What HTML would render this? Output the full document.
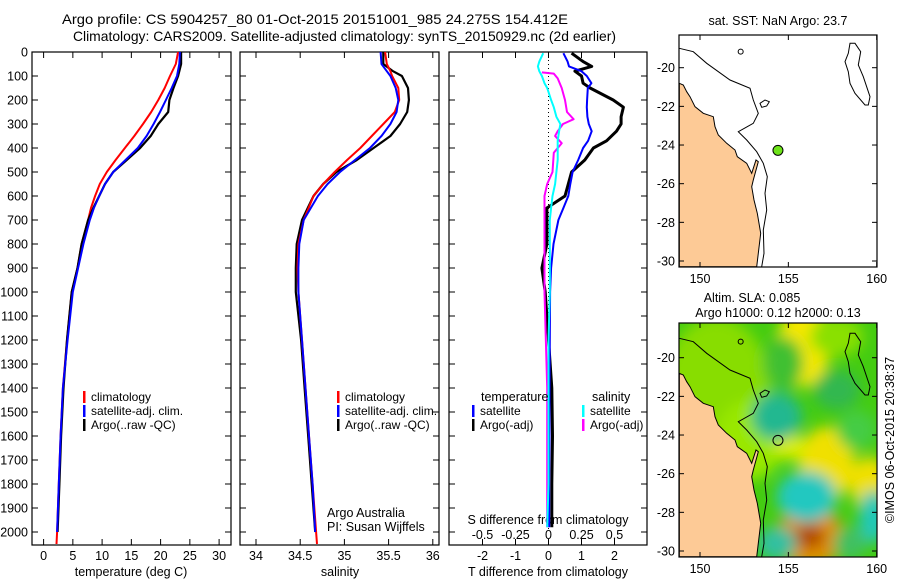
<!DOCTYPE html>
<html><head><meta charset="utf-8"><style>
body{margin:0;background:#fff;}
svg{display:block;font-family:"Liberation Sans",sans-serif;}
</style></head><body>
<svg id="c" width="900" height="580" viewBox="0 0 900 580">
<defs>
<clipPath id="mapclip1"><rect x="679" y="35" width="198" height="232"/></clipPath>
<clipPath id="mapclip2"><rect x="679" y="323" width="198" height="234"/></clipPath>
<filter id="blur" x="-50%" y="-50%" width="200%" height="200%"><feGaussianBlur stdDeviation="7"/></filter>
</defs>
<g font-size="14">
<text x="62" y="24" textLength="506" lengthAdjust="spacingAndGlyphs">Argo profile: CS 5904257_80 01-Oct-2015 20151001_985 24.275S 154.412E</text>
<text x="73" y="41" textLength="543" lengthAdjust="spacingAndGlyphs">Climatology: CARS2009. Satellite-adjusted climatology: synTS_20150929.nc (2d earlier)</text>
</g>
<g id="plots"></g>
<g id="maps"></g>
</svg>
<script>
// ---- data ----
const tDepth = [0,50,100,150,200,250,300,350,400,450,500,550,600,650,700,800,900,1000,1200,1400,1600,1800,2000,2050];
const tClim = [23.0,22.6,21.6,20.7,19.6,18.4,17.0,15.5,13.9,12.3,10.8,9.6,8.8,8.1,7.6,6.5,5.8,4.8,4.0,3.3,2.9,2.6,2.3,2.2];
const tSat = [23.3,23.2,22.8,21.9,20.9,19.9,18.8,17.6,16.1,14.0,11.9,10.5,9.5,8.6,7.9,6.8,5.9,5.0,4.1,3.3,2.9,2.6,2.3];
const tArgo = [23.5,23.5,23.0,22.2,21.5,21.3,19.6,18.3,16.5,14.2,11.9,10.5,9.5,8.5,7.6,6.5,5.8,4.8,4.0,3.4,3.0,2.7,2.4];
const sDepth = [0,50,80,100,150,200,250,300,350,400,450,500,550,600,700,800,900,1000,1200,1400,1600,1800,2000,2050];
const sClim = [35.46,35.48,35.52,35.54,35.61,35.62,35.57,35.44,35.31,35.18,35.03,34.89,34.76,34.65,34.54,34.48,34.47,34.48,34.52,34.56,34.60,34.64,34.68,34.69];
const sSat = [35.41,35.42,35.48,35.52,35.58,35.61,35.59,35.52,35.42,35.29,35.12,34.95,34.81,34.70,34.54,34.49,34.48,34.48,34.52,34.56,34.60,34.64,34.67];
const sArgo = [35.44,35.44,35.55,35.65,35.72,35.73,35.71,35.63,35.52,35.33,35.14,34.91,34.76,34.65,34.52,34.46,34.45,34.45,34.51,34.55,34.59,34.63,34.67];
const dDepth = [5,40,60,80,100,130,150,200,230,270,300,330,370,400,450,500,550,600,650,700,800,900,1000,1200,1400,1600,1800,1980];
const dTSat = [0.45,0.58,0.62,1.0,1.16,1.3,1.19,1.17,1.16,1.18,1.22,1.31,1.2,1.05,0.9,0.73,0.66,0.6,0.45,0.3,0.15,0.08,0.05,0.04,0.03,0.03,0.02,0.02];
const dTArgo = [0.7,1.05,1.31,0.8,1.0,1.05,1.26,1.96,2.27,2.2,2.2,2.06,1.76,1.36,1.1,0.7,0.6,0.5,-0.05,-0.05,-0.05,-0.2,-0.1,0.0,0.1,0.12,0.1,0.1];
const dSSat = [-0.04,-0.07,-0.08,-0.07,-0.05,-0.03,-0.01,0.02,0.04,0.06,0.09,0.08,0.07,0.07,0.07,0.06,0.05,0.03,0.02,0.01,0.01,0.01,0.01,0.0,0.0,0.0,0.0,-0.01];
const mDepth = [85,90,110,150,200,250,280,300,330,350,380,420,500,550,600,700,800,1000,1400,1800,1980];
const dSArgo = [-0.05,0.04,0.07,0.1,0.125,0.14,0.19,0.11,0.07,0.05,0.1,0.04,0.03,-0.01,-0.03,-0.03,-0.03,-0.03,-0.01,-0.01,-0.01];
const depthTicks = [0,100,200,300,400,500,600,700,800,900,1000,1100,1200,1300,1400,1500,1600,1700,1800,1900,2000];
const tTicks = [0,5,10,15,20,25,30];
const sTicks = [34,34.5,35,35.5,36];
const sTickLabels = ["34","34.5","35","35.5","36"];
const dtTicks = [-2,-1,0,1,2];
const dsTicks = [-0.5,-0.25,0,0.25,0.5];
const dsTickLabels = ["-0.5","-0.25","0","0.25","0.5"];
const lonTicks = [150,155,160];
const latTicks = [-20,-22,-24,-26,-28,-30];
const argoLon = 154.412, argoLat = -24.275;

const NS='http://www.w3.org/2000/svg';
function mk(tag, attrs, parent){const e=document.createElementNS(NS,tag);for(const k in attrs)e.setAttribute(k,attrs[k]);parent.appendChild(e);return e;}
const plots=document.getElementById('plots');
const yD = d => 52 + d*0.24;
const pTop=52, pBot=545;
const panels=[
 {x0:32,x1:231,name:'temperature-panel',fx:v=>43.6+v*5.85},
 {x0:240,x1:439,name:'salinity-panel',fx:v=>256+(v-34)*88.4},
 {x0:449,x1:647,name:'difference-panel',fx:v=>548.5+v*33}
];
function line(xs, ds, fx, color, w, name, parent){
  let p='';
  for(let i=0;i<Math.min(xs.length,ds.length);i++){p+=(i?'L':'M')+fx(xs[i]).toFixed(1)+','+yD(ds[i]).toFixed(1);}
  const e=mk('path',{d:p,fill:'none',stroke:color,'stroke-width':w,'stroke-linejoin':'round'},parent);
  
  
}
panels.forEach((P,pi)=>{
  const g=mk('g',{},plots);
  
  
  const fr=mk('rect',{x:P.x0,y:pTop,width:P.x1-P.x0,height:pBot-pTop,fill:'none',stroke:'#000','stroke-width':1.2},g);
  
  
  depthTicks.forEach(d=>{
    mk('line',{x1:P.x0,x2:P.x0+6,y1:yD(d),y2:yD(d),stroke:'#000'},g);
    mk('line',{x1:P.x1-6,x2:P.x1,y1:yD(d),y2:yD(d),stroke:'#000'},g);
  });
});
const yl=mk('g',{'font-size':'12.5','text-anchor':'end'},plots);


depthTicks.forEach(d=>{const t=mk('text',{x:28,y:yD(d)+4.5},yl);t.textContent=d;});
function xticks(P, ticks, labels, ly, name){
  const g=mk('g',{'font-size':'12.5','text-anchor':'middle'},plots);
  
  
  ticks.forEach((v,i)=>{
    const x=P.fx(v);
    mk('line',{x1:x,x2:x,y1:pTop,y2:pTop+6,stroke:'#000'},g);
    mk('line',{x1:x,x2:x,y1:pBot-6,y2:pBot,stroke:'#000'},g);
    const t=mk('text',{x:x,y:ly},g);t.textContent=labels[i];
  });
}
xticks(panels[0], tTicks, tTicks.map(String), 560, 'temperature-axis-ticks');
xticks(panels[1], sTicks, sTickLabels, 560, 'salinity-axis-ticks');
xticks(panels[2], dtTicks, dtTicks.map(String), 560, 't-diff-axis-ticks');
const sdl=mk('g',{'font-size':'12.5','text-anchor':'middle'},plots);


dsTicks.forEach((v,i)=>{const t=mk('text',{x:548.5+v*132,y:539},sdl);t.textContent=dsTickLabels[i];});
[[131,'temperature (deg C)','x-axis-title-temperature'],[340,'salinity','x-axis-title-salinity'],[548,'T difference from climatology','x-axis-title-t-diff']].forEach(a=>{
  const t=mk('text',{x:a[0],y:576,'font-size':'12.5','text-anchor':'middle'},plots);t.textContent=a[1];
  
  
});
const sdt=mk('text',{x:548,y:524,'font-size':'12.5','text-anchor':'middle'},plots);sdt.textContent='S difference from climatology';


const zl=mk('line',{x1:548.5,x2:548.5,y1:pTop,y2:yD(2000),stroke:'#000','stroke-dasharray':'1,3'},plots);


line(tClim,tDepth,panels[0].fx,'#f00',2,'temp-climatology-line',plots);
line(tArgo,tDepth,panels[0].fx,'#000',2.2,'temp-argo-line',plots);
line(tSat,tDepth,panels[0].fx,'#00f',2,'temp-satellite-line',plots);
line(sArgo,sDepth,panels[1].fx,'#000',2.2,'sal-argo-line',plots);
line(sClim,sDepth,panels[1].fx,'#f00',2,'sal-climatology-line',plots);
line(sSat,sDepth,panels[1].fx,'#00f',2,'sal-satellite-line',plots);
line(dTArgo,dDepth,v=>548.5+v*33,'#000',3,'t-diff-argo-line',plots);
line(dTSat,dDepth,v=>548.5+v*33,'#00f',2,'t-diff-satellite-line',plots);
line(dSArgo,mDepth,v=>548.5+v*132,'#f0f',2,'s-diff-argo-line',plots);
line(dSSat,dDepth,v=>548.5+v*132,'#0ff',2,'s-diff-satellite-line',plots);
function legend(x,y,items,name){
  const g=mk('g',{'font-size':'12'},plots);
  
  
  items.forEach((it,i)=>{
    mk('rect',{x:x,y:y+i*14-10,width:2.5,height:12,fill:it[0]},g);
    const t=mk('text',{x:x+8,y:y+i*14},g);t.textContent=it[1];
  });
}
legend(83,401,[['#f00','climatology'],['#00f','satellite-adj. clim.'],['#000','Argo(..raw -QC)']],'temperature-legend');
legend(337,401,[['#f00','climatology'],['#00f','satellite-adj. clim.'],['#000','Argo(..raw -QC)']],'salinity-legend');
legend(472,415,[['#00f','satellite'],['#000','Argo(-adj)']],'t-diff-legend');
legend(582,415,[['#0ff','satellite'],['#f0f','Argo(-adj)']],'s-diff-legend');
[[481,401,'temperature'],[592,401,'salinity'],[327,517,'Argo Australia'],[327,531,'PI: Susan Wijffels']].forEach(a=>{
  const t=mk('text',{x:a[0],y:a[1],'font-size':'12.5'},plots);t.textContent=a[2];
  
  
});

// ---- maps ----
const maps=document.getElementById('maps');
const coast=[[88,250],[100,255],[110,275],[120,290],[135,320],[160,340],[190,350],[195,380],[205,405],[230,430],[255,450],[262,470],[290,490],[305,520],[318,480],[325,485],[310,540],[305,560],[312,600],[322,640],[332,700],[325,760],[320,800],[88,800]];
const shelf=[[88,145],[130,155],[170,190],[240,240],[300,265],[310,300],[325,340],[310,370],[265,395],[290,420],[320,455],[340,490],[352,530],[345,580],[350,630],[340,690],[342,760],[335,800]];
const island=[[600,130],[615,130],[632,155],[625,195],[640,230],[660,290],[655,315],[645,315],[615,280],[600,250],[595,215],[585,185],[595,160]];
function mapPts(arr, y0){return arr.map(p=>(650+p[0]/3).toFixed(1)+','+(y0+p[1]/3).toFixed(1)).join(' ');}
function drawMap(y0, boxTop, boxBot, latY, clip, heat, name){
  const g=mk('g',{},maps);
  
  
  const inner=mk('g',{'clip-path':'url(#'+clip+')'},g);
  mk('rect',{x:679,y:boxTop,width:198,height:boxBot-boxTop,fill:heat?'#44cc11':'#fff'},inner);
  if(heat){
    const blobs=[[200,300,'#88dd00',80,110],[300,450,'#99e800',50,60],[460,170,'#f5e800',40,60],[530,520,'#f0e000',42,55],[660,580,'#f0e000',30,40],[420,470,'#d8ee00',25,20],[480,740,'#e09000',50,45],[480,740,'#b04800',22,18],[380,380,'#20b890',38,36],[470,620,'#20c8c0',45,38],[670,680,'#20c8b8',22,40],[560,300,'#30b850',35,30],[620,420,'#44cc44',30,30],[400,220,'#40c030',30,40],[560,140,'#8ae000',40,30],[380,760,'#30c0a0',30,25],[600,760,'#40c060',25,25]];
    const bg=mk('g',{filter:'url(#blur)'},inner);
    
    
    blobs.forEach(b=>mk('ellipse',{cx:650+b[0]/3,cy:y0+b[1]/3,rx:b[3]/1.5,ry:b[4]/1.5,fill:b[2]},bg));
  }
  const land=mk('polygon',{points:mapPts(coast,y0),fill:'#fdca96',stroke:'#000','stroke-width':1},inner);
  
  
  mk('polyline',{points:mapPts(shelf,y0),fill:'none',stroke:'#000','stroke-width':1},inner);
  mk('polygon',{points:mapPts(island,y0),fill:'none',stroke:'#000','stroke-width':1},inner);
  mk('circle',{cx:650+272/3,cy:y0+155/3,r:2.5,fill:'none',stroke:'#000'},inner);
  mk('polygon',{points:mapPts([[330,310],[345,300],[358,305],[350,318],[335,322]],y0),fill:'none',stroke:'#000'},inner);
  const fx=lon=>700+(lon-150)*17.67, fy=lat=>latY+(-20-lat)*19.33;
  const dot=mk('circle',{cx:fx(argoLon),cy:fy(argoLat),r:5,fill:heat?'none':'#6ee31a',stroke:'#000'},inner);
  
  
  mk('rect',{x:679,y:boxTop,width:198,height:boxBot-boxTop,fill:'none',stroke:'#000','stroke-width':1.2},g);
  const tl=mk('g',{'font-size':'12.5'},g);
  lonTicks.forEach(l=>{const x=fx(l);mk('line',{x1:x,x2:x,y1:boxTop,y2:boxTop+5,stroke:'#000'},tl);mk('line',{x1:x,x2:x,y1:boxBot-5,y2:boxBot,stroke:'#000'},tl);
    const t=mk('text',{x:x,y:boxBot+16,'text-anchor':'middle'},tl);t.textContent=l;});
  latTicks.forEach(l=>{const y=fy(l);mk('line',{x1:679,x2:684,y1:y,y2:y,stroke:'#000'},tl);mk('line',{x1:872,x2:877,y1:y,y2:y,stroke:'#000'},tl);
    const t=mk('text',{x:675,y:y+4.5,'text-anchor':'end'},tl);t.textContent=l;});
}
drawMap(0,35,267,67.7,'mapclip1',false,'sst-map');
drawMap(290,323,557,357.7,'mapclip2',true,'sla-map');
[[778,25,'sat. SST: NaN Argo: 23.7'],[752,302,'Altim. SLA: 0.085'],[778,317,'Argo h1000: 0.12 h2000: 0.13']].forEach(a=>{
  const t=mk('text',{x:a[0],y:a[1],'font-size':'12.5','text-anchor':'middle'},maps);t.textContent=a[2];
  
  
});
const cr=mk('text',{x:0,y:0,'font-size':'12.5','text-anchor':'middle',transform:'translate(894,440) rotate(-90)'},maps);
cr.textContent='©IMOS 06-Oct-2015 20:38:37';


</script>
</body></html>
